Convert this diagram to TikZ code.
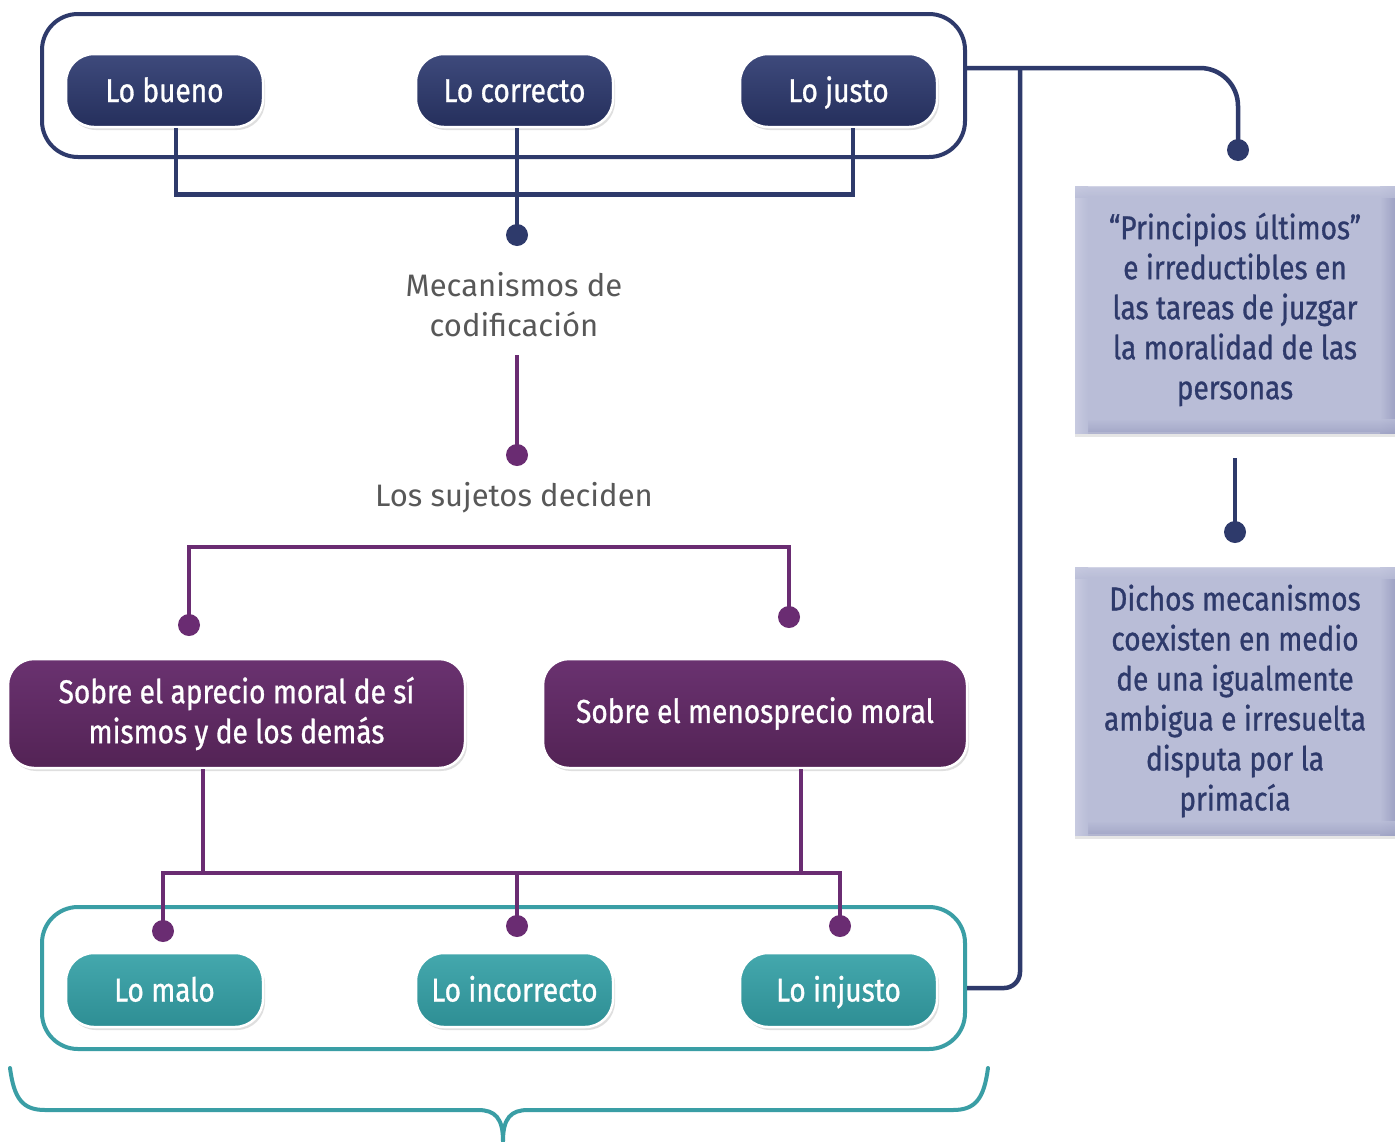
\documentclass[tikz,border=0pt]{standalone}
\usepackage{fontspec}
\setmainfont{Fira Sans}
\newfontfamily\condfont[FakeStretch=0.85,FakeBold=0.9]{Fira Sans}
\usetikzlibrary{shadows,calc}
\definecolor{navy}{HTML}{2E3A6B}
\definecolor{navyL}{HTML}{3E4A7C}
\definecolor{navyD}{HTML}{252F5C}
\definecolor{plum}{HTML}{5F2A63}
\definecolor{plumL}{HTML}{6A3270}
\definecolor{plumD}{HTML}{532355}
\definecolor{plumline}{HTML}{6A2C72}
\definecolor{teal}{HTML}{3A9EA5}
\definecolor{tealL}{HTML}{44A8AD}
\definecolor{tealD}{HTML}{2E8E94}
\definecolor{lav}{HTML}{B9BDD7}
\definecolor{lavD}{HTML}{9EA2C4}
\definecolor{lavL}{HTML}{C7CAE0}
\definecolor{graytext}{HTML}{585858}
\tikzset{
  pill/.style={rounded corners=28pt, minimum width=197pt, minimum height=73pt,
    draw=white, line width=2.5pt, text=white, align=center, inner sep=0pt,
    text height=24pt, text depth=1pt,
    font=\condfont\fontsize{33}{40}\selectfont,
    drop shadow={opacity=0.25, shadow xshift=2pt, shadow yshift=-3pt}},
  navypill/.style={pill, top color=navyL, bottom color=navyD},
  tealpill/.style={pill, top color=tealL, bottom color=tealD},
  plumbox/.style={pill, text height=, text depth=, rounded corners=26pt, minimum height=109pt,
    top color=plumL, bottom color=plumD},
  lavbox/.style={draw=white, line width=2pt, fill=lav, minimum width=320pt,
    inner sep=0pt, align=center, text=navy,
    font=\condfont\fontsize{33}{40}\selectfont,
    drop shadow={opacity=0.2, shadow xshift=0pt, shadow yshift=-4pt}},
  frame/.style={rounded corners=36pt, line width=4pt, minimum width=923pt, inner sep=0pt},
  nline/.style={draw=navy, line width=4.5pt},
  pline/.style={draw=plumline, line width=4.5pt},
  graylabel/.style={text=graytext, align=center, font=\fontsize{31}{40}\selectfont},
}
\newcommand\lavedges[1]{%
  \shade[left color=lav, right color=lavD] ([xshift=-16pt,yshift=-1pt]#1.north east) rectangle ([xshift=-1pt,yshift=1pt]#1.south east);
  \shade[top color=lav, bottom color=lavD, opacity=0.8] ([xshift=1pt,yshift=15pt]#1.south west) rectangle ([xshift=-1pt,yshift=1pt]#1.south east);
  \shade[right color=lav, left color=lavL] ([xshift=1pt,yshift=-1pt]#1.north west) rectangle ([xshift=14pt,yshift=1pt]#1.south west);
  \shade[bottom color=lav, top color=lavL, opacity=0.8] ([xshift=1pt,yshift=-1pt]#1.north west) rectangle ([xshift=-1pt,yshift=-12pt]#1.north east);
}
\begin{document}
\begin{tikzpicture}[x=1pt,y=-1pt]
\useasboundingbox[fill=white] (0,0) rectangle (1395,1141);

% frames
\node[frame, draw=navy, minimum height=143pt] (topbox) at (503.5,85.5) {};
\node[frame, draw=teal, minimum height=142pt] (botbox) at (503.5,978) {};

% coordinates for free ends
\coordinate (d1) at (517,235);
\coordinate (m1) at (517,355);
\coordinate (d2) at (517,455);
\coordinate (d3) at (189,625);
\coordinate (bt) at (500,547);
\coordinate (d4) at (789,617);
\coordinate (hb) at (500,873);
\coordinate (d5) at (163,931);
\coordinate (d6) at (517,926);
\coordinate (d7) at (840,926);
\coordinate (r1) at (1020,68);
\coordinate (d8) at (1238,150);
\coordinate (d9) at (1235,532);

% side boxes
\node[lavbox, minimum height=247pt] (prin) at (1235,309.5) {};
\lavedges{prin}
\node[align=center, text=navy, font=\condfont\fontsize{33}{40}\selectfont] (prinT) at (prin.center)
  {“Principios últimos”\\e irreductibles en\\las tareas de juzgar\\la moralidad de las\\personas};
\node[lavbox, minimum height=268pt] (dic) at (1235,701) {};
\lavedges{dic}
\node[align=center, text=navy, font=\condfont\fontsize{33}{40}\selectfont] (dicT) at (dic.center)
  {Dichos mecanismos\\coexisten en medio\\de una igualmente\\ambigua e irresuelta\\disputa por la\\primacía};

% navy connectors
\draw[nline, rounded corners=16pt] ([yshift=-10pt]botbox.east) -| (r1);
\draw[nline, rounded corners=38pt] ([yshift=17.5pt]topbox.east) -| (d8);
\fill[navy] (d8) circle (11pt);
\draw[nline] ([yshift=-24pt]prin.south) -- (d9);
\fill[navy] (d9) circle (11pt);

% top pills
\node[navypill] (bueno) at (164.5,90.5) {Lo bueno};
\node[navypill] (correcto) at (514.5,90.5) {Lo correcto};
\node[navypill] (justo) at (838.5,90.5) {Lo justo};

\draw[nline] ([xshift=11.5pt]bueno.south) -- ++(0,66) -| ([xshift=14.5pt]justo.south);
\draw[nline] ([xshift=2.5pt]correcto.south) -- (d1);
\fill[navy] (d1) circle (11pt);

% labels
\node[graylabel] (mec) at (514,305) {Mecanismos de\\codificación};
\draw[pline] (m1) -- (d2);
\fill[plumline] (d2) circle (11pt);
\node[graylabel] (suj) at (514,498) {Los sujetos deciden};

\draw[pline] (d3) |- (bt) -| (d4);
\fill[plumline] (d3) circle (11pt);
\fill[plumline] (d4) circle (11pt);

% purple boxes
\node[plumbox, minimum width=457pt] (apr) at (236.5,713.5) {Sobre el aprecio moral de sí\\mismos y de los demás};
\node[plumbox, minimum width=424pt] (men) at (755,713.5) {Sobre el menosprecio moral};

\draw[pline] ([xshift=-33.5pt]apr.south) -- ([xshift=-33.5pt]apr.south |- hb);
\draw[pline] ([xshift=46pt]men.south) -- ([xshift=46pt]men.south |- hb);
\draw[pline] (d5) |- (hb) -| (d7);
\draw[pline] (d6) -- (d6 |- hb);
\fill[plumline] (d5) circle (11pt);
\fill[plumline] (d6) circle (11pt);
\fill[plumline] (d7) circle (11pt);

% teal pills
\node[tealpill, minimum height=74pt] (malo) at (164.5,990) {Lo malo};
\node[tealpill, minimum height=74pt] (incorrecto) at (514.5,990) {Lo incorrecto};
\node[tealpill, minimum height=74pt] (injusto) at (838.5,990) {Lo injusto};

% brace
\draw[teal, line width=4pt, line cap=round]
  (10,1068) .. controls (14,1098) and (22,1110) .. (45,1110) -- (478,1110)
  .. controls (495,1110) and (503,1118) .. (503,1141);
\draw[teal, line width=4pt, line cap=round]
  (988,1068) .. controls (984,1098) and (976,1110) .. (953,1110) -- (528,1110)
  .. controls (511,1110) and (503,1118) .. (503,1141);
\end{tikzpicture}
\end{document}
